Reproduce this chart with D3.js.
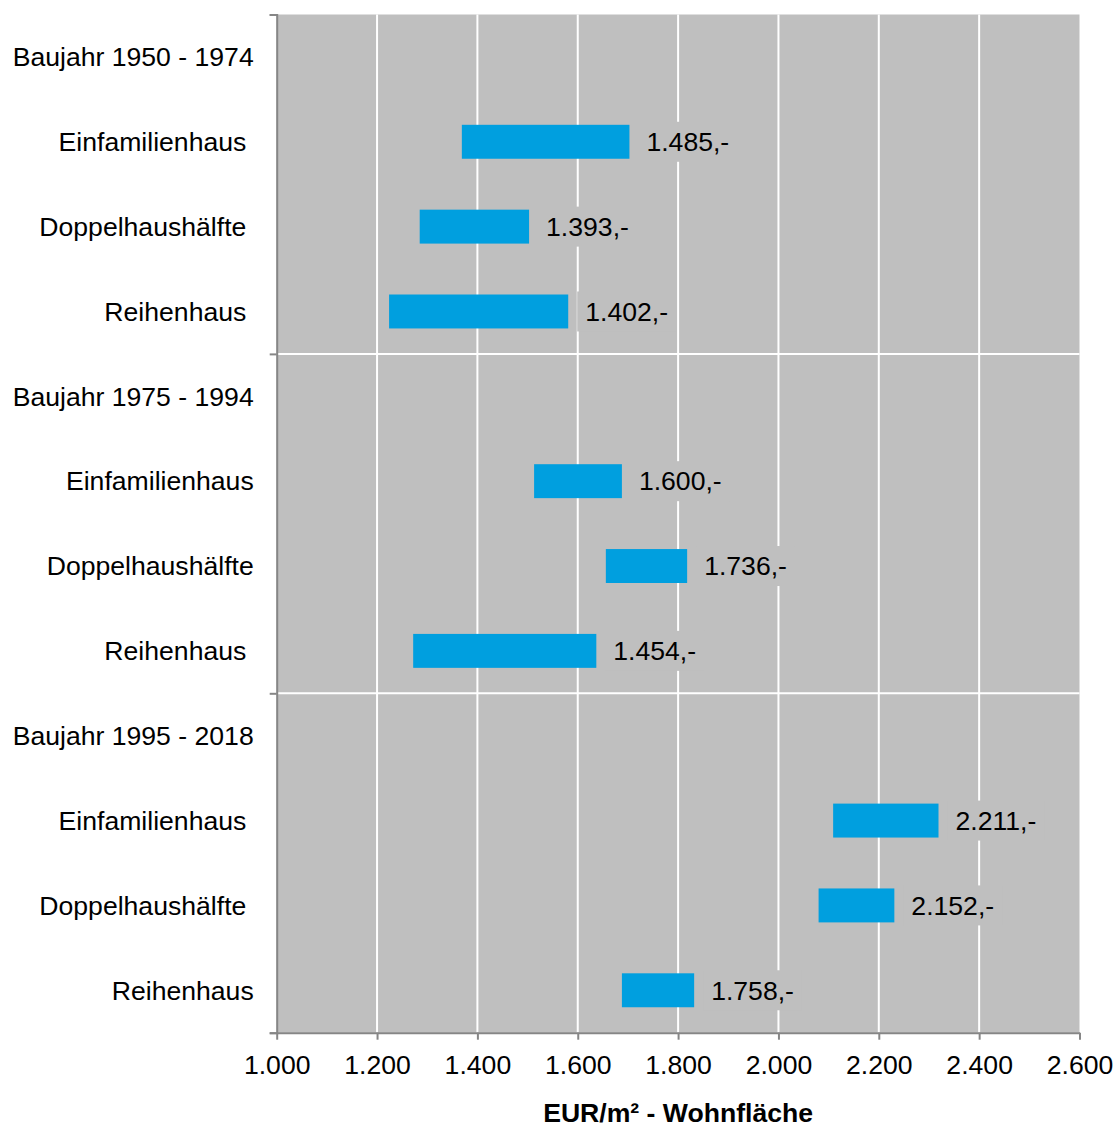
<!DOCTYPE html>
<html>
<head>
<meta charset="utf-8">
<script src="https://cdn.jsdelivr.net/npm/d3@7"></script>
<style>
  body { margin: 0; background: #fff; }
  svg text { font-family: "Liberation Sans", Arial, sans-serif; fill: #000; }
</style>
</head>
<body>
<div id="chart"></div>
<script>
// categories (trailing spaces kept as in the original labels)
const categories = [
    'Baujahr 1950 - 1974', 'Einfamilienhaus ', 'Doppelhaushälfte ', 'Reihenhaus ',
    'Baujahr 1975 - 1994', 'Einfamilienhaus', 'Doppelhaushälfte', 'Reihenhaus ',
    'Baujahr 1995 - 2018', 'Einfamilienhaus ', 'Doppelhaushälfte ', 'Reihenhaus'
];
const lowValues  = [null, 1369, 1285, 1224, null, 1513, 1656, 1272, null, 2109, 2080, 1688];
const highValues = [null, 1703, 1503, 1581, null, 1688, 1818, 1637, null, 2319, 2231, 1832];
const meanValues = [null, 1485, 1393, 1402, null, 1600, 1736, 1454, null, 2211, 2152, 1758];
const xTicks = [1000, 1200, 1400, 1600, 1800, 2000, 2200, 2400, 2600];
const sections = [0, 1, 2, 3];
const xTitle = 'EUR/m² - Wohnfläche';

const W = 1115, H = 1129;
const margin = { top: 14.5, right: 35.5, bottom: 96.3, left: 276.7 };
const width = W - margin.left - margin.right;
const height = H - margin.top - margin.bottom;
const fs = 26.6;

const de = d3.formatLocale({ decimal: ',', thousands: '.', grouping: [3], currency: ['', ''] });
const fmt = de.format(',d');

const svg = d3.select('#chart')
    .append('svg')
    .attr('width', W)
    .attr('height', H);

const g = svg.append('g')
    .attr('transform', `translate(${margin.left},${margin.top})`);

const x = d3.scaleLinear()
    .domain([1000, 2600])
    .range([0, width]);

const y = d3.scaleBand()
    .domain(d3.range(categories.length))
    .range([0, height])
    .paddingInner(0.6)
    .paddingOuter(0.3);

const ySec = d3.scaleLinear()
    .domain([0, 3])
    .range([0, height]);

// plot background
g.append('rect')
    .attr('width', width)
    .attr('height', height)
    .attr('fill', '#bfbfbf');

// vertical grid
g.selectAll('.vgrid')
    .data(xTicks.slice(1, -1))
    .join('line')
    .attr('class', 'vgrid')
    .attr('x1', d => x(d)).attr('x2', d => x(d))
    .attr('y1', 0).attr('y2', height)
    .attr('stroke', '#fff')
    .attr('stroke-width', 2);

// section separators
g.selectAll('.hgrid')
    .data(sections.slice(1, -1))
    .join('line')
    .attr('class', 'hgrid')
    .attr('x1', 0).attr('x2', width)
    .attr('y1', d => ySec(d)).attr('y2', d => ySec(d))
    .attr('stroke', '#fff')
    .attr('stroke-width', 2);

const rows = d3.range(categories.length).filter(i => lowValues[i] !== null);

// range bars
g.selectAll('.bar')
    .data(rows)
    .join('rect')
    .attr('class', 'bar')
    .attr('x', i => x(lowValues[i]))
    .attr('y', i => y(i))
    .attr('width', i => x(highValues[i]) - x(lowValues[i]))
    .attr('height', y.bandwidth())
    .attr('fill', '#009fdf');

// value labels with background boxes
const lbl = g.selectAll('.lbl')
    .data(rows)
    .join('g')
    .attr('class', 'lbl')
    .attr('transform', i => `translate(${x(highValues[i]) + 17},${y(i) + y.bandwidth() / 2})`);

lbl.append('rect')
    .attr('fill', '#bfbfbf');

lbl.append('text')
    .attr('dy', '0.35em')
    .attr('font-size', fs)
    .text(i => fmt(meanValues[i]) + ',-');

lbl.each(function () {
    const t = d3.select(this).select('text').node().getBBox();
    d3.select(this).select('rect')
        .attr('x', t.x - 8)
        .attr('y', -20)
        .attr('width', t.width + 16)
        .attr('height', 40);
});

// category labels
g.selectAll('.cat')
    .data(categories)
    .join('text')
    .attr('class', 'cat')
    .attr('x', -23)
    .attr('y', (d, i) => y(i) + y.bandwidth() / 2)
    .attr('dy', '0.35em')
    .attr('text-anchor', 'end')
    .attr('font-size', fs)
    .style('white-space', 'pre')
    .text(d => d);

// left axis (ticks only at section borders)
const yAxis = g.append('g')
    .call(d3.axisLeft(ySec).tickValues(sections).tickSize(7).tickFormat(''));
yAxis.select('.domain').attr('stroke', '#868686').attr('stroke-width', 2);
yAxis.selectAll('.tick line').attr('stroke', '#868686').attr('stroke-width', 2);

// bottom axis
const xAxis = g.append('g')
    .attr('transform', `translate(0,${height})`)
    .call(d3.axisBottom(x).tickValues(xTicks).tickSize(7).tickSizeOuter(0).tickPadding(15).tickFormat(fmt));
xAxis.select('.domain').attr('stroke', '#868686').attr('stroke-width', 2);
xAxis.selectAll('.tick line').attr('stroke', '#868686').attr('stroke-width', 2);
xAxis.selectAll('.tick text')
    .attr('font-size', fs)
    .attr('font-family', '"Liberation Sans", Arial, sans-serif')
    .attr('fill', '#000');

// axis title
g.append('text')
    .attr('x', width / 2)
    .attr('y', height + 80)
    .attr('dy', '0.35em')
    .attr('text-anchor', 'middle')
    .attr('font-size', fs)
    .attr('font-weight', 'bold')
    .text(xTitle);
</script>
</body>
</html>
